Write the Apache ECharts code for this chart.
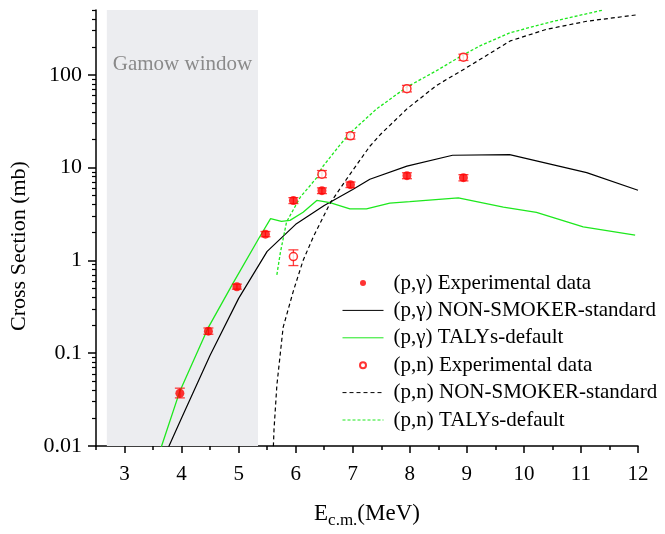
<!DOCTYPE html>
<html>
<head>
<meta charset="utf-8">
<script src="https://cdn.jsdelivr.net/npm/echarts@6/dist/echarts.min.js"></script>
<style>html,body{margin:0;padding:0;background:#fff}#c{width:665px;height:534px}</style>
</head>
<body>
<div id="c"></div>
<script>
// ---- data ----
const pgExpE   = [3.97, 4.47, 4.97, 5.47, 5.96, 6.46, 6.96, 7.95, 8.94];
const pgExpV   = [0.037, 0.173, 0.52, 1.92, 4.43, 5.65, 6.55, 8.2, 7.8];
const pgExpLo  = [0.033, 0.160, 0.49, 1.80, 4.10, 5.25, 6.10, 7.6, 7.2];
const pgExpHi  = [0.042, 0.187, 0.555, 2.05, 4.75, 6.05, 7.00, 8.8, 8.4];

const pnExpE   = [5.96, 6.46, 6.96, 7.95, 8.94];
const pnExpV   = [1.10, 8.5, 22, 71, 155];
const pnExpLo  = [0.88, 7.8, 20.3, 65.5, 143];
const pnExpHi  = [1.30, 9.3, 23.8, 77, 167];

const nsPgE = [3.6, 3.78, 4.0, 4.5, 5.0, 5.5, 6.0, 6.5, 7.0, 7.3, 7.95, 8.75, 9.75, 11.1, 12.0];
const nsPgV = [0.0055, 0.01, 0.020, 0.095, 0.39, 1.25, 2.45, 3.9, 5.8, 7.5, 10.4, 13.6, 13.8, 8.85, 5.7];

const taPgE = [3.5, 3.65, 3.97, 4.47, 4.91, 5.37, 5.56, 5.75, 5.9, 6.13, 6.37, 6.6, 6.95, 7.24, 7.65, 8.0, 8.85, 9.64, 10.22, 11.04, 11.95];
const taPgV = [0.0053, 0.01, 0.039, 0.19, 0.58, 1.8, 2.82, 2.64, 2.7, 3.3, 4.43, 4.2, 3.6, 3.6, 4.15, 4.3, 4.72, 3.75, 3.3, 2.3, 1.87];

const nsPnE = [5.6, 5.62, 5.67, 5.78, 5.96, 6.13, 6.31, 6.6, 6.89, 7.3, 7.48, 7.95, 8.47, 9.0, 9.76, 10.4, 11.1, 12.0];
const nsPnV = [0.007, 0.015, 0.045, 0.19, 0.47, 1.0, 1.8, 4.1, 7.5, 17, 22.6, 43, 77, 120, 232, 310, 378, 445];

const taPnE = [5.67, 5.73, 5.84, 6.08, 6.37, 6.46, 6.78, 6.95, 7.42, 7.95, 8.47, 8.94, 9.23, 9.76, 10.52, 11.39];
const taPnV = [0.70, 1.2, 2.6, 4.8, 7.8, 10, 17.7, 23.5, 43, 74, 111, 165, 205, 285, 378, 500];

const gamowRange = [2.69, 5.34];
const gamowText = 'Gamow window';

const xMajorTicks = [3, 4, 5, 6, 7, 8, 9, 10, 11, 12];
const xMinorTicks = [2.5, 3.5, 4.5, 5.5, 6.5, 7.5, 8.5, 9.5, 10.5, 11.5];
const yMajorTicks = [0.01, 0.1, 1, 10, 100];
const yMinorTicks = [0.02,0.03,0.04,0.05,0.06,0.07,0.08,0.09,
                     0.2,0.3,0.4,0.5,0.6,0.7,0.8,0.9,
                     2,3,4,5,6,7,8,9,
                     20,30,40,50,60,70,80,90,
                     200,300,400,500];

const names = ['(p,\u03b3) Experimental data', '(p,\u03b3) NON-SMOKER-standard', '(p,\u03b3) TALYs-default',
               '(p,n) Experimental data', '(p,n) NON-SMOKER-standard', '(p,n) TALYs-default'];
const lineNames = [names[1], names[2], names[4], names[5]];

// ---- build ----
const FONT = 'Liberation Serif';
const GREEN = '#1ee81e';
const zip = (a, b) => a.map((v, i) => [v, b[i]]);
const zip3 = (a, b, c) => a.map((v, i) => [v, b[i], c[i]]);

function errRender(params, api) {
  const x = api.value(0);
  const lo = api.coord([x, api.value(1)]);
  const hi = api.coord([x, api.value(2)]);
  const w = 5;
  const st = { stroke: 'rgba(255,0,0,0.75)', lineWidth: 1.3 };
  return { type: 'group', children: [
    { type: 'line', shape: { x1: lo[0], y1: lo[1], x2: hi[0], y2: hi[1] }, style: st },
    { type: 'line', shape: { x1: lo[0] - w, y1: lo[1], x2: lo[0] + w, y2: lo[1] }, style: st },
    { type: 'line', shape: { x1: hi[0] - w, y1: hi[1], x2: hi[0] + w, y2: hi[1] }, style: st }
  ]};
}

const chart = echarts.init(document.getElementById('c'), null, { renderer: 'canvas' });
const option = {
  animation: false,
  backgroundColor: '#fff',
  textStyle: { fontFamily: FONT },
  grid: { left: 96, right: 27, top: 10, bottom: 82, containLabel: false },
  legend: {
    orient: 'vertical', left: 337, top: 266,
    itemWidth: 41, itemHeight: 6, itemGap: 3.4,
    lineStyle: { width: 1 },
    textStyle: { fontFamily: FONT, fontSize: 21, color: '#000', lineHeight: 24, padding: [0, 0, 0, 5] },
    data: names.map(n => lineNames.includes(n)
      ? { name: n, itemStyle: { opacity: 0 } }
      : { name: n })
  },
  xAxis: [
    {
      type: 'value', min: 2.5, max: 12, gridIndex: 0,
      name: '{e|E}{s|c.m.}{e|(MeV)}', nameLocation: 'middle', nameGap: 56,
      nameTextStyle: { rich: {
        e: { fontFamily: FONT, fontSize: 23, color: '#000', lineHeight: 27, verticalAlign: 'top' },
        s: { fontFamily: FONT, fontSize: 17, color: '#000', lineHeight: 27, verticalAlign: 'bottom' }
      } },
      axisLine: { show: true, onZero: false, lineStyle: { color: '#000', width: 1.5 } },
      axisTick: { show: true, customValues: xMajorTicks, length: 7, lineStyle: { color: '#000', width: 1.5 } },
      axisLabel: { customValues: xMajorTicks, fontFamily: FONT, fontSize: 21, color: '#000', margin: 18 },
      splitLine: { show: false }
    },
    {
      type: 'value', min: 2.5, max: 12, position: 'bottom',
      axisLine: { show: false, onZero: false },
      axisTick: { show: true, customValues: xMinorTicks, length: 4, lineStyle: { color: '#000', width: 1.5 } },
      axisLabel: { show: false },
      splitLine: { show: false }
    }
  ],
  yAxis: [
    {
      type: 'log', logBase: 10, min: 0.01, max: 500,
      name: 'Cross Section (mb)', nameLocation: 'middle', nameGap: 66,
      nameTextStyle: { fontFamily: FONT, fontSize: 22, color: '#000', padding: [0, 36, 0, 0] },
      axisLine: { show: true, onZero: false, lineStyle: { color: '#000', width: 1.5 } },
      axisTick: { show: true, customValues: yMajorTicks, length: 8, lineStyle: { color: '#000', width: 1.5 } },
      axisLabel: { customValues: yMajorTicks, fontFamily: FONT, fontSize: 22, color: '#000', margin: 14,
                   formatter: v => String(v) },
      splitLine: { show: false }
    },
    {
      type: 'log', logBase: 10, min: 0.01, max: 500, position: 'left',
      axisLine: { show: false, onZero: false },
      axisTick: { show: true, customValues: yMinorTicks, length: 4, lineStyle: { color: '#000', width: 1.2 } },
      axisLabel: { show: false },
      splitLine: { show: false }
    }
  ],
  series: [
    {
      name: names[0], type: 'scatter', xAxisIndex: 0, yAxisIndex: 0,
      data: zip(pgExpE, pgExpV), symbol: 'circle', symbolSize: 9,
      itemStyle: { color: '#ff0000' }, z: 5,
      markArea: {
        silent: true,
        itemStyle: { color: '#ecedf0' },
        label: { show: true, position: 'insideTop', distance: 44, color: '#8a8a8a',
                 fontFamily: FONT, fontSize: 21 },
        data: [[{ name: gamowText, xAxis: gamowRange[0], yAxis: 0.01 }, { xAxis: gamowRange[1], yAxis: 500 }]]
      }
    },
    {
      name: 'errPg', type: 'custom', renderItem: errRender, z: 4,
      data: zip3(pgExpE, pgExpLo, pgExpHi), encode: { x: 0, y: [1, 2] }
    },
    {
      name: names[1], type: 'line', data: zip(nsPgE, nsPgV), symbol: 'none', clip: true,
      lineStyle: { color: '#000', width: 1.2 }, itemStyle: { color: '#000' }, z: 3
    },
    {
      name: names[2], type: 'line', data: zip(taPgE, taPgV), symbol: 'none', clip: true,
      lineStyle: { color: GREEN, width: 1.3 }, itemStyle: { color: GREEN }, z: 3
    },
    {
      name: names[3], type: 'scatter', data: zip(pnExpE, pnExpV), symbol: 'circle', symbolSize: 8,
      itemStyle: { color: '#fff', borderColor: '#ff0000', borderWidth: 1.5 }, z: 5
    },
    {
      name: 'errPn', type: 'custom', renderItem: errRender, z: 4,
      data: zip3(pnExpE, pnExpLo, pnExpHi), encode: { x: 0, y: [1, 2] }
    },
    {
      name: names[4], type: 'line', data: zip(nsPnE, nsPnV), symbol: 'none', clip: true,
      lineStyle: { color: '#000', width: 1.2, type: [4, 3] }, itemStyle: { color: '#000' }, z: 3
    },
    {
      name: names[5], type: 'line', data: zip(taPnE, taPnV), symbol: 'none', clip: true,
      lineStyle: { color: GREEN, width: 1.3, type: [3, 2] }, itemStyle: { color: GREEN }, z: 3
    }
  ]
};
chart.setOption(option);
</script>
</body>
</html>
